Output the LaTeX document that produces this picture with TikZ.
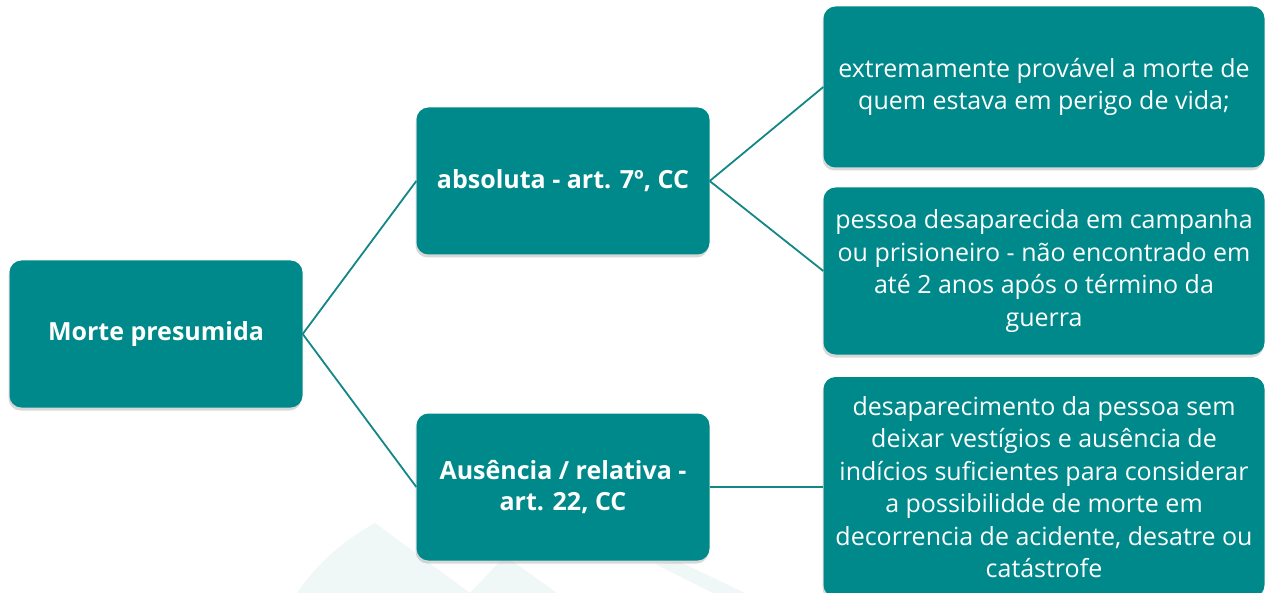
\documentclass[tikz,border=0pt]{standalone}
\usepackage{fontspec}
\setmainfont{Open Sans}
\usetikzlibrary{positioning,shadows}
\definecolor{tealbox}{HTML}{00898A}
\definecolor{teallink}{HTML}{138786}
\definecolor{marca}{HTML}{F0F8F7}

\begin{document}
\begin{tikzpicture}[x=1pt,y=-1pt,
    caixa/.style={rounded corners=12pt,fill=tealbox,text=white,align=center,inner sep=0pt,
      drop shadow={shadow xshift=-1pt,shadow yshift=-3pt,opacity=.3}},
    pai/.style={caixa,minimum width=293pt,minimum height=147pt,
      font=\bfseries\fontsize{25}{31}\selectfont},
    filho/.style={caixa,minimum width=441pt,font=\fontsize{25}{32.5}\selectfont},
    liga/.style={draw=teallink,line width=1.8pt}]
  \useasboundingbox[fill=white] (0,0) rectangle (1265,593);

  % marca d'agua no fundo
  \fill[marca] (297,593) .. controls (320,560) and (345,540) .. (375,523) -- (470,593) -- cycle;
  \fill[marca] (470,593) -- (505,556) -- (557,593) -- cycle;
  \fill[marca] (655,564) -- (680,562) -- (745,593) -- (713,593) -- cycle;

  % caixas
  \node[pai] (morte) at (156,334) {Morte presumida};
  \node[pai] (abs) at (563,181) {absoluta - art. 7º, CC};
  \node[pai] (aus) at (563,487) {Ausência / relativa -\\ art. 22, CC};

  \node[filho,minimum height=161pt] (prov) at (1044,87)
    {extremamente provável a morte de\\ quem estava em perigo de vida;};
  \node[filho,minimum height=167pt] (guerra) at (1044,271)
    {pessoa desaparecida em campanha\\ ou prisioneiro - não encontrado em\\
     até 2 anos após o término da\\ guerra};
  \node[filho,minimum height=220pt] (desap) at (1044,487)
    {desaparecimento da pessoa sem\\ deixar vestígios e ausência de\\
     indícios suficientes para considerar\\ a possibilidde de morte em\\
     decorrencia de acidente, desatre ou\\ catástrofe};

  % ligacoes
  \draw[liga] (morte.east) -- (abs.west);
  \draw[liga] (morte.east) -- (aus.west);
  \draw[liga] (abs.east) -- (prov.west);
  \draw[liga] (abs.east) -- (guerra.west);
  \draw[liga] (aus.east) -- (desap.west);
\end{tikzpicture}
\end{document}
